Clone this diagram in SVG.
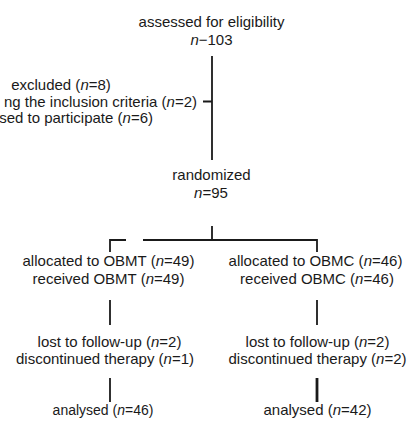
<svg xmlns="http://www.w3.org/2000/svg" width="416" height="425" viewBox="0 0 416 425">
<style>
text{font-family:"Liberation Sans",Arial,Helvetica,sans-serif;font-size:15px;fill:#1a1a1a}
.c{text-anchor:middle}
.e{text-anchor:end}
.i{font-style:italic}
.ln{stroke:#1a1a1a;stroke-width:1.8;fill:none}
</style>
<rect width="416" height="425" fill="#fff"/>
<g id="assessed">
<text class="c" x="211.5" y="27">assessed for eligibility</text>
<text class="c" x="211.5" y="45"><tspan class="i">n</tspan>−103</text>
</g>
<g id="excluded">
<text class="c" x="61" y="90">excluded (<tspan class="i">n</tspan>=8)</text>
<text class="e" x="197" y="107">ng the inclusion criteria (<tspan class="i">n</tspan>=2)</text>
<text class="e" x="153" y="123">sed to participate (<tspan class="i">n</tspan>=6)</text>
</g>
<g id="randomized">
<text class="c" x="211.5" y="180">randomized</text>
<text class="c" x="211" y="198"><tspan class="i">n</tspan>=95</text>
</g>
<g id="allocOBMT">
<text class="c" x="108.5" y="266">allocated to OBMT (<tspan class="i">n</tspan>=49)</text>
<text class="c" x="108.5" y="284">received OBMT (<tspan class="i">n</tspan>=49)</text>
</g>
<g id="allocOBMC">
<text class="c" x="315.5" y="266">allocated to OBMC (<tspan class="i">n</tspan>=46)</text>
<text class="c" x="317" y="284">received OBMC (<tspan class="i">n</tspan>=46)</text>
</g>
<g id="lostOBMT">
<text class="c" x="109.5" y="347">lost to follow-up (<tspan class="i">n</tspan>=2)</text>
<text class="c" x="105" y="364">discontinued therapy (<tspan class="i">n</tspan>=1)</text>
</g>
<g id="lostOBMC">
<text class="c" x="317.5" y="347">lost to follow-up (<tspan class="i">n</tspan>=2)</text>
<text class="c" x="317.5" y="364">discontinued therapy (<tspan class="i">n</tspan>=2)</text>
</g>
<g id="analysedOBMT">
<text class="c" x="103" y="415" style="font-size:14px">analysed (<tspan class="i">n</tspan>=46)</text>
</g>
<g id="analysedOBMC">
<text class="c" x="317.5" y="415">analysed (<tspan class="i">n</tspan>=42)</text>
</g>
<g id="connectors">
<path class="ln" d="M212 56V160M203 101.5H212"/>
<path class="ln" d="M212 226V240M110 252V240H126M143 240H317V252"/>
<path class="ln" d="M110 300V325M317 300V325"/>
<path class="ln" d="M110 378V402"/>
<path class="ln" d="M317 378V402" style="stroke-width:2.8"/>
</g>
</svg>
